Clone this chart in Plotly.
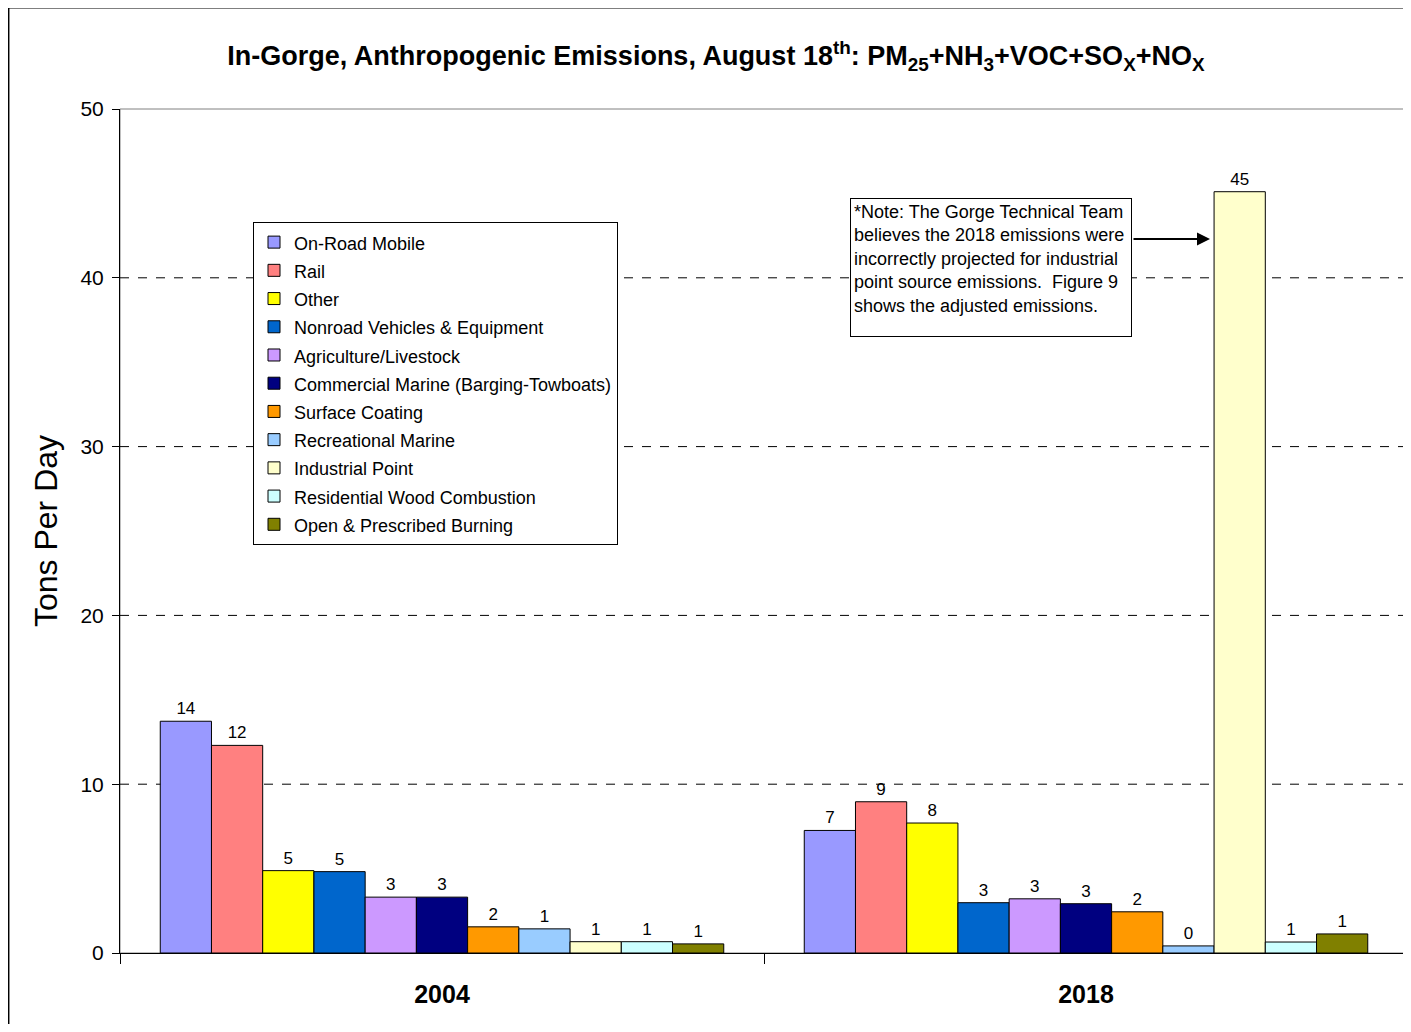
import plotly.graph_objects as go

years = ["2004", "2018"]
categories = [
    "On-Road Mobile", "Rail", "Other", "Nonroad Vehicles & Equipment",
    "Agriculture/Livestock", "Commercial Marine (Barging-Towboats)",
    "Surface Coating", "Recreational Marine", "Industrial Point",
    "Residential Wood Combustion", "Open & Prescribed Burning",
]
values_2004 = [13.73, 12.3, 4.88, 4.82, 3.31, 3.31, 1.55, 1.43, 0.67, 0.67, 0.54]
values_2018 = [7.26, 8.96, 7.7, 2.98, 3.21, 2.92, 2.44, 0.42, 45.1, 0.65, 1.13]
colors = ["#9999FF", "#FF8080", "#FFFF00", "#0066CC", "#CC99FF", "#000080",
          "#FF9900", "#99CCFF", "#FFFFCC", "#CCFFFF", "#808000"]
grid_vals = [10, 20, 30, 40]
y_ticks = [0, 10, 20, 30, 40, 50]

FONT = "Liberation Sans, Arial, sans-serif"
OFF = 8  # page body margin
W, H = 1411 - OFF, 1032 - 2 * OFF
ML, MT = 120 - OFF, 109 - OFF
PW, PH = 1288, 844
MR = W - ML - PW
MB = H - MT - PH

def px(x):
    return (x - 120) / PW

def py(y):
    return (953 - y) / PH

fig = go.Figure()
for i, cat in enumerate(categories):
    fig.add_trace(go.Bar(
        name='<span style="font-size:18px">' + cat + '</span>',
        x=years, y=[values_2004[i], values_2018[i]],
        marker=dict(color=colors[i], line=dict(color="black", width=1)),
        texttemplate="%{y:.0f}", textposition="outside",
        textfont=dict(family=FONT, size=17, color="black"),
        cliponaxis=False,
    ))

shapes = []
# outer chart border
shapes.append(dict(type="rect", xref="paper", yref="paper",
                   x0=px(8.7), x1=px(1440), y0=py(7.7), y1=py(1060),
                   line=dict(color="black", width=1.5), layer="below"))
# plot area border (gray)
shapes.append(dict(type="rect", xref="paper", yref="paper",
                   x0=0, x1=1, y0=0, y1=1,
                   line=dict(color="#808080", width=1), layer="below"))
for g in grid_vals:
    shapes.append(dict(type="line", xref="paper", yref="y", x0=0, x1=1, y0=g, y1=g,
                       line=dict(color="black", width=1, dash="dash"), layer="below"))

annotations = [
    dict(xref="paper", yref="paper", x=px(850), y=py(198), xanchor="left", yanchor="top",
         text="*Note: The Gorge Technical Team<br>believes the 2018 emissions were<br>"
              "incorrectly projected for industrial<br>point source emissions.  Figure 9<br>"
              "shows the adjusted emissions.",
         align="left", valign="top", showarrow=False, width=274, height=131,
         bordercolor="black", borderwidth=1, borderpad=3, bgcolor="white",
         font=dict(family=FONT, size=18, color="black")),
    dict(xref="paper", yref="paper", x=px(1210), y=py(239), text="",
         showarrow=True, ax=-78, ay=0, arrowhead=2, arrowsize=1.3, arrowwidth=2,
         arrowcolor="black"),
]

fig.update_layout(
    width=W, height=H,
    margin=dict(l=ML, r=MR, t=MT, b=MB),
    paper_bgcolor="white", plot_bgcolor="white",
    barmode="group", bargap=0.125, bargroupgap=0,
    font=dict(family=FONT, color="black"),
    title=dict(
        text="<b>In-Gorge, Anthropogenic Emissions, August 18<sup>th</sup>: PM<sub>25</sub>+NH<sub>3</sub>"
             "+VOC+SO<sub>X</sub>+NO<sub>X</sub></b>",
        x=(716 - OFF) / W, xanchor="center", y=1 - (56 - OFF) / H, yanchor="middle",
        font=dict(family=FONT, size=27, color="black"),
    ),
    showlegend=True,
    legend=dict(x=px(253), y=py(222), xanchor="left", yanchor="top",
                bgcolor="white", bordercolor="black", borderwidth=1,
                font=dict(family=FONT, size=19.4, color="black"),
                tracegroupgap=0, itemwidth=30),
    xaxis=dict(type="category", tickson="boundaries", ticks="outside", ticklen=10,
               tickcolor="black", showline=True, linecolor="black", linewidth=1,
               tickfont=dict(family=FONT, size=25, color="black", weight="bold"),
               ticklabelstandoff=19, showgrid=False, zeroline=False),
    yaxis=dict(range=[0, 50], tickvals=y_ticks, ticks="outside", ticklen=7,
               tickcolor="black", showline=True, linecolor="black", linewidth=1,
               tickfont=dict(family=FONT, size=21, color="black"),
               ticklabelstandoff=4,
               showgrid=False, zeroline=False,
               title=dict(text="Tons Per Day", font=dict(family=FONT, size=32, color="black"),
                          standoff=13)),
    shapes=shapes,
    annotations=annotations,
)

fig.write_html("out.html")
